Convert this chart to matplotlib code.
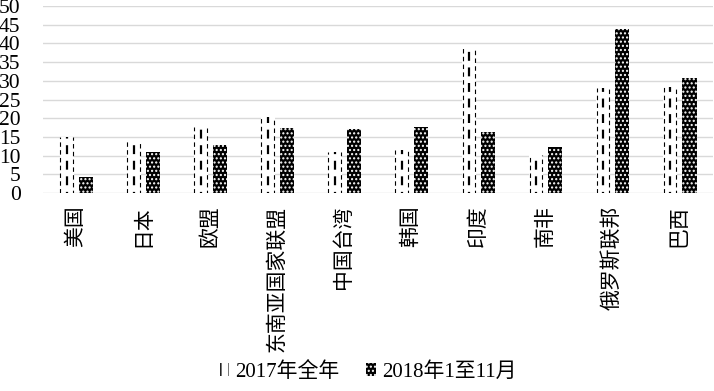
"""
对外投资增速柱状图：2017年全年 vs 2018年1至11月
"""
import numpy as np
import matplotlib
matplotlib.use('Agg')
import matplotlib.pyplot as plt
from matplotlib.patches import Patch

# --- 数据 ---
categories = ['美国', '日本', '欧盟', '东南亚国家联盟', '中国台湾',
              '韩国', '印度', '南非', '俄罗斯联邦', '巴西']
v2017 = [14.9, 14.0, 17.7, 20.4, 11.0, 11.5, 38.9, 10.2, 28.2, 28.4]
v2018 = [4.2, 11.0, 12.8, 17.5, 17.2, 17.7, 16.3, 12.4, 43.9, 30.8]
y_ticks = list(range(0, 51, 5))
labels = ['2017年全年', '2018年1至11月']

plt.rcParams['font.family'] = ['Liberation Serif', 'Noto Sans CJK SC']
plt.rcParams['hatch.linewidth'] = 1.0

fig = plt.figure(figsize=(7.14, 3.91), dpi=100)
ax = fig.add_axes([0.060, 0.506, 0.939, 0.479])

x = np.arange(len(categories))
w = 0.21
off = 0.145

# 2017：白底 + 竖向虚线
b1 = ax.bar(x - off, v2017, w, color='white', edgecolor='none', zorder=2)
for i, r in enumerate(b1.patches):
    x0, h, bw = r.get_x(), r.get_height(), r.get_width()
    ax.vlines([x0 + 0.01], 0, h, colors='black', linewidth=0.8,
              linestyles=(0, (4, 3)), zorder=3)
    ax.vlines([x0 + bw / 2], 0, h, colors='black', linewidth=1.6,
              linestyles=(3.5, (4, 3)), zorder=3)
    ax.vlines([x0 + bw - 0.01], 0, h, colors='black', linewidth=0.8,
              linestyles=(1.5, (4, 3)), zorder=3)

# 2018：黑底白点网格
ax.bar(x + off, v2018, w, color='black', edgecolor='white', linewidth=0,
       hatch='....', zorder=2)

ax.set_xlim(-0.5, len(categories) - 0.5)
ax.set_ylim(0, 50)
ax.set_yticks(y_ticks)
ax.set_xticks(x)
ax.set_xticklabels(categories, rotation=90, va='top', ha='center', fontsize=15)
ax.tick_params(axis='y', length=0, labelsize=15.5, pad=16)
ax.tick_params(axis='x', length=0, pad=9)
ax.grid(axis='y', color='#d9d9d9', linewidth=1, zorder=0)
ax.set_axisbelow(True)
for s in ax.spines.values():
    s.set_visible(False)

handles = [Patch(facecolor='white', edgecolor='black', hatch='||', linewidth=0),
           Patch(facecolor='black', edgecolor='white', hatch='....', linewidth=0)]
fig.legend(handles, labels, loc='lower center', bbox_to_anchor=(0.515, -0.025),
           ncol=2, frameon=False, fontsize=15, handlelength=0.45,
           handleheight=0.6, handletextpad=0.3, columnspacing=1.3)

fig.savefig('out.png', dpi=100, facecolor='white')
